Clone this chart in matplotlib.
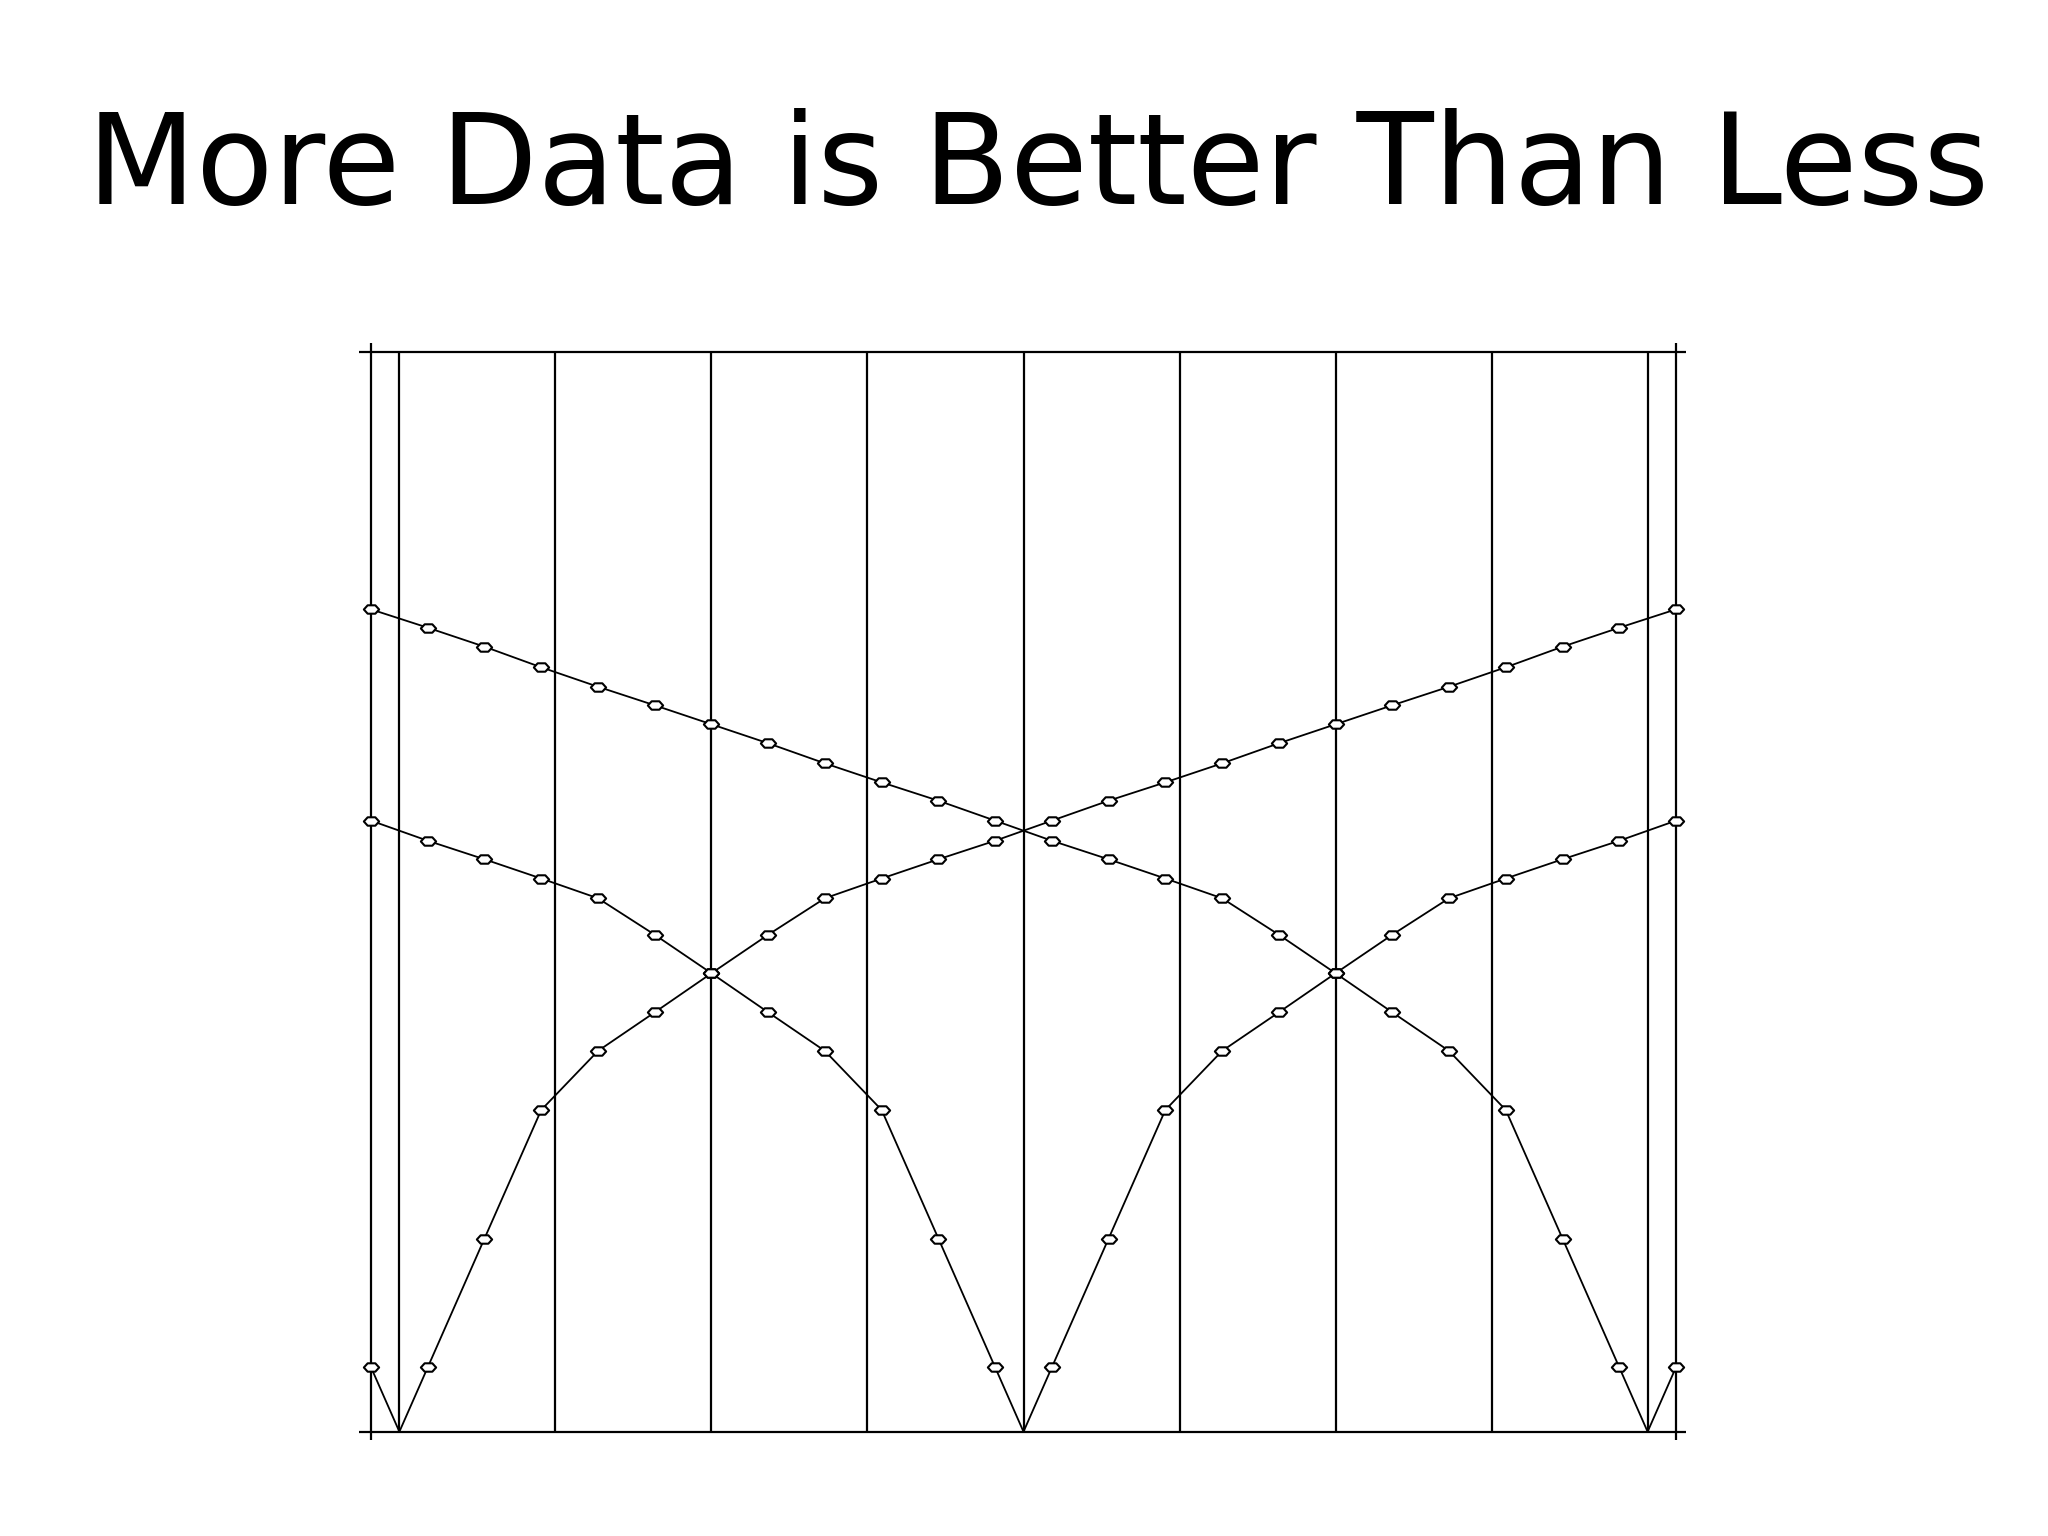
import matplotlib
matplotlib.use("Agg")
import matplotlib.pyplot as plt
from matplotlib.path import Path
import numpy as np

# ---- data ----
sample_x = list(range(24))          # sample positions (markers)
grid_x = [0.5, 3.25, 6.0, 8.75, 11.5, 14.25, 17.0, 19.75, 22.5]

curve_a = [76.20, 74.50, 72.74, 70.83, 69.03, 67.31, 65.55, 63.79, 61.93, 60.17,
           58.47, 56.62, 54.76, 53.04, 51.26, 49.43, 46.05, 42.48, 38.86, 35.28,
           29.81, 17.90, 5.97, 5.97]
curve_a_null = 22.5
curve_b = [5.97, 5.97, 17.90, 29.81, 35.28, 38.86, 42.48, 46.05, 49.43, 51.26,
           53.04, 54.76, 56.62, 58.47, 60.17, 61.93, 63.79, 65.55, 67.31, 69.03,
           70.83, 72.74, 74.50, 76.20]
curve_b_null = 0.5
curve_c = [56.62, 54.76, 53.04, 51.26, 49.43, 46.05, 42.48, 38.86, 35.28, 29.81,
           17.90, 5.97, 5.97, 17.90, 29.81, 35.28, 38.86, 42.48, 46.05, 49.43,
           51.26, 53.04, 54.76, 56.62]
curve_c_null = 11.5

title = "More Data is Better Than Less"

# ---- figure ----
W, H = 2048, 1536
fig = plt.figure(figsize=(W / 100, H / 100), dpi=100)
fig.patch.set_facecolor("white")

x_lo, x_hi = -0.21, 23.18
y_lo, y_hi = -0.74, 100.88
ax = fig.add_axes([359.1 / W, (H - 1439.7) / H, 1327.1 / W, (1439.7 - 343.0) / H])
ax.set_xlim(x_lo, x_hi)
ax.set_ylim(y_lo, y_hi)
ax.axis("off")

lw_frame = 1.6
# frame lines with overhang
ax.plot([x_lo, x_hi], [0, 0], color="black", lw=lw_frame, solid_capstyle="butt")
ax.plot([x_lo, x_hi], [100, 100], color="black", lw=lw_frame, solid_capstyle="butt")
ax.plot([0, 0], [y_lo, y_hi], color="black", lw=lw_frame, solid_capstyle="butt")
ax.plot([23, 23], [y_lo, y_hi], color="black", lw=lw_frame, solid_capstyle="butt")
ax.vlines(grid_x, 0, 100, color="black", lw=lw_frame)

# custom flat hexagon marker
verts = [(-1, 0), (-0.5, 0.55), (0.5, 0.55), (1, 0), (0.5, -0.55), (-0.5, -0.55), (-1, 0)]
codes = [Path.MOVETO] + [Path.LINETO] * 5 + [Path.CLOSEPOLY]
hexmark = Path(verts, codes)

for vals, nx in [(curve_a, curve_a_null), (curve_b, curve_b_null), (curve_c, curve_c_null)]:
    xs = list(sample_x) + [nx]
    ys = list(vals) + [0.0]
    order = np.argsort(xs)
    ax.plot(np.array(xs)[order], np.array(ys)[order], color="black", lw=1.3, zorder=3)
    ax.plot(sample_x, vals, linestyle="none", marker=hexmark, markersize=11,
            markerfacecolor="white", markeredgecolor="black", markeredgewidth=1.5, zorder=4)

fig.text(1038 / W, (H - 204) / H, title, ha="center", va="baseline",
         fontsize=91, family="DejaVu Sans", color="black")

fig.savefig("out.png", dpi=100, facecolor="white")
